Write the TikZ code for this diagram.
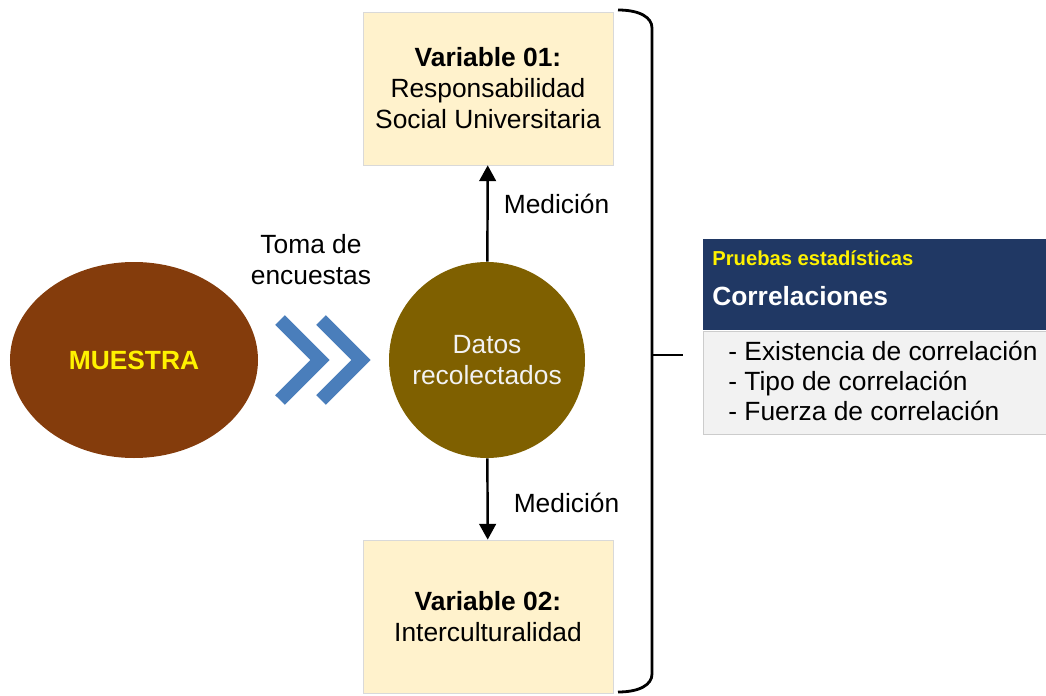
\documentclass[tikz,border=0pt]{standalone}
\usepackage{fontspec}
\setmainfont{Liberation Sans}
\usepackage{tikz}
\usetikzlibrary{arrows.meta,shapes.geometric,positioning}
\definecolor{muestrac}{HTML}{843C0C}
\definecolor{datosc}{HTML}{7F6000}
\definecolor{chevc}{HTML}{4A7EBB}
\definecolor{varc}{HTML}{FFF2CC}
\definecolor{headc}{HTML}{203864}
\definecolor{bodyc}{HTML}{F2F2F2}
\begin{document}
\begin{tikzpicture}[font=\fontsize{15}{17.6}\selectfont,
  >={Triangle[length=9pt,width=9.5pt]},
  varbox/.style={shape=rectangle,draw=black!15,fill=varc,minimum width=5cm,minimum height=3.06cm,align=center},
  lbl/.style={inner sep=0pt}]
\useasboundingbox (0,0) rectangle (20.92,13.9);
\node (muestra) at (2.68,6.70) [shape=ellipse,fill=muestrac,minimum width=4.96cm,minimum height=3.92cm,inner sep=0pt,text=yellow] {\textbf{MUESTRA}};
\node (datos) at (9.74,6.70) [shape=circle,fill=datosc,minimum size=3.92cm,inner sep=0pt,align=center,text=bodyc] {Datos\\recolectados};
\node (var1) at (9.76,12.13) [varbox] {\textbf{Variable 01:}\\Responsabilidad\\Social Universitaria};
\node (var2) at (9.76,1.57) [varbox] {\textbf{Variable 02:}\\Interculturalidad};
\node (toma) at (6.22,8.70) [align=center,lbl] {Toma de\\encuestas};
% chevrons
\draw [chevc,line width=0.27cm,miter limit=10] (5.60,7.50) -- (6.40,6.70) -- (5.60,5.90);
\draw [chevc,line width=0.27cm,miter limit=10] (6.42,7.50) -- (7.22,6.70) -- (6.42,5.90);
\draw [->,line width=1.4pt] (datos) -- (var1) node[pos=0.6,right=0.3cm,lbl] {Medición};
\draw [->,line width=1.4pt] (datos) -- (var2) node[pos=0.55,right=0.5cm,lbl] {Medición};
% brace
\draw [line width=1.6pt] (12.36,13.70) .. controls (12.80,13.70) and (13.04,13.55) .. (13.04,13.34)
  -- (13.04,0.42) .. controls (13.04,0.21) and (12.80,0.06) .. (12.36,0.06);
\coordinate (tip) at (13.66,6.80);
\draw [line width=1.6pt] (13.04,6.80) -- (tip);
% pruebas
\node (head) at (14.06,9.12) [anchor=north west,shape=rectangle,fill=headc,minimum width=7cm,minimum height=1.82cm] {};
\node (body) [below=0pt of head.south west,anchor=north west,shape=rectangle,draw=black!20,fill=bodyc,minimum width=7cm,minimum height=2.06cm] {};
\node (pruebas) at (14.24,8.74) [anchor=west,lbl,text=yellow,font=\fontsize{11.5}{13}\selectfont\bfseries] {Pruebas estadísticas};
\node (corr) at (14.24,7.98) [anchor=west,lbl,text=white,font=\fontsize{15}{17.6}\selectfont\bfseries] {Correlaciones};
\node (lista) at (14.56,6.28) [anchor=west,lbl,align=left,font=\fontsize{15}{17}\selectfont] {- Existencia de correlación\\- Tipo de correlación\\- Fuerza de correlación};
\end{tikzpicture}
\end{document}
